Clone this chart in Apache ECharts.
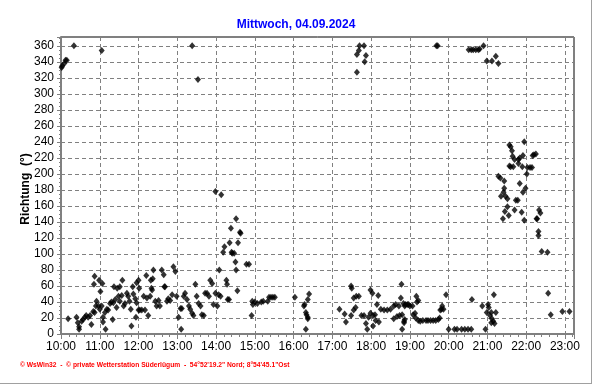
<!DOCTYPE html>
<html>
<head>
<meta charset="utf-8">
<script src="https://cdn.jsdelivr.net/npm/echarts@6/dist/echarts.min.js"></script>
<style>
html,body{margin:0;padding:0;background:#fff;}
#chart{width:592px;height:384px;}
</style>
</head>
<body>
<div id="chart"></div>
<script>
// Observations: [minutes after midnight, wind direction in degrees]
const morningObs = [
[601,333],[602,335],[605,338],[607,342],[609,342],[620,360],[663,354],[803,360],[812,318],
[611,19],[624,21],[626,14],[628,9],[628,6],[632,16],[634,18],[637,21],[639,23],[642,21],[645,23],
[647,12],[650,28],[651,62],[652,27],[652,72],[654,35],[655,41],[658,35],[659,67],[660,31],[661,53],[663,35],[664,63],[665,21],[665,15],[668,27],[669,6],[671,31],[673,30],[676,38],[678,40],[680,18],[681,39],[682,59],[684,43],[686,33],[687,57],[689,47],[691,41],[691,59],[694,48],[695,67],[697,35],[699,38],[702,51],[704,47],[706,41],[708,31],[709,10],[711,59],[712,50],[715,44],[716,21],[717,39],[717,64],[720,30],[720,67],[721,57],[722,30],[725,30],[728,47],[730,30],[732,73],[733,45],[735,23],[738,47],[739,67],[740,57],[741,55],[742,69],[743,80],[746,41],[748,35],[751,42],[753,35],[756,80],[759,74],[760,59],[761,59],[764,41],[766,44],[769,42],[772,49],[774,84],[777,78],[779,47],[782,21],[785,32],[786,6],[787,32],[790,47],[792,51],[795,43],[798,35],[800,31],[803,26],[805,23],[808,62],[810,47],[813,38],[816,35],[818,24],[821,23],[823,51],[826,51],[829,47],[831,67],[834,63],[836,37]
];
const afternoonObs = [
[839,178],[839,51],[842,35],[844,49],[845,80],[847,47],[848,174],[851,102],[853,109],[856,67],[857,62],[858,43],[860,43],[861,114],[863,132],[864,102],[865,101],[868,101],[870,90],[871,144],[871,80],[873,54],[874,114],[877,127],[878,126],[887,87],[891,87],[895,23],[896,41],[897,37],[900,40],[904,38],[910,40],[913,41],[920,41],[922,46],[925,46],[928,46],[931,46],[962,46],[976,35],[977,37],[979,27],[979,6],[980,24],[982,21],[982,19],[982,43],[984,50]
];
const eveningObs = [
[1031,31],[1039,25],[1041,15],[1049,23],[1049,60],[1050,57],[1053,30],[1053,45],[1056,33],[1057,47],[1058,327],[1058,349],[1061,354],[1061,47],[1062,360],[1065,23],[1069,360],[1069,23],[1070,340],[1072,348],[1072,13],[1074,6],[1076,21],[1079,55],[1079,26],[1082,51],[1083,23],[1083,10],[1086,24],[1087,17],[1089,37],[1091,48],[1092,15],[1095,31],[1100,30],[1105,30],[1110,31],[1115,35],[1115,19],[1118,37],[1120,22],[1123,35],[1124,23],[1126,45],[1127,62],[1128,24],[1128,6],[1131,16],[1133,37],[1138,37]
];
const nightObs = [
[1130,38],[1132,35],[1136,37],[1140,35],[1144,35],[1145,24],[1148,26],[1132,18],[1131,14],[1150,47],[1151,40],[1153,42],[1149,20],[1153,17],[1156,16],[1160,17],[1165,17],[1168,17],[1172,17],[1176,17],[1180,17],[1184,18],[1186,20],[1181,360],[1183,360],[1187,30],[1189,31],[1190,35],[1192,31],[1196,49],[1200,6],[1209,6],[1213,6],[1220,6],[1225,6],[1230,6],[1231,355],[1235,355],[1235,6],[1236,43],[1238,355],[1242,355],[1246,355],[1248,356],[1252,35],[1254,360],[1257,6],[1259,341],[1259,27],[1261,37],[1262,33],[1264,23],[1266,27],[1266,14],[1267,341],[1267,19],[1269,16],[1270,49],[1271,13],[1273,347],[1273,27],[1277,338],[1277,197],[1280,195],[1281,172],[1284,144],[1285,177],[1286,191],[1286,182],[1287,153],[1288,172],[1291,169],[1291,159],[1293,148],[1294,236],[1294,210],[1296,234],[1296,209],[1298,229],[1299,222],[1300,209],[1302,218],[1302,155],[1304,167],[1307,167],[1308,218],[1308,213],[1310,220],[1310,188],[1313,152],[1314,209],[1315,223],[1315,177],[1317,240],[1317,142],[1319,182],[1321,200],[1322,208],[1326,208],[1329,208],[1330,223],[1332,224],[1335,225],[1336,144],[1337,144],[1339,128],[1339,123],[1340,155],[1342,151],[1344,103],[1353,102],[1354,51],[1358,24],[1376,28],[1387,28]
];
const titleText = 'Mittwoch, 04.09.2024';
const yAxisTitle = 'Richtung  (°)';
const footerText = '\u00A9 WsWin32  -  \u00A9 private Wetterstation Süderlügum  -  54°52\'19.2" Nord; 8°54\'45.1"Ost';

const allObs = morningObs.concat(afternoonObs, eveningObs, nightObs);
const fontFam = '"Liberation Sans", Arial, sans-serif';
function hhmm(v){const h=Math.floor(v/60), m=Math.round(v%60);return (h<10?'0':'')+h+':'+(m<10?'0':'')+m;}

const chart = echarts.init(document.getElementById('chart'), null, {renderer:'canvas'});
chart.setOption({
  animation:false,
  backgroundColor:'#fff',
  title:{text:titleText,left:'center',top:14,textStyle:{color:'#0000ff',fontSize:12,fontWeight:'bold',fontFamily:fontFam}},
  grid:{left:61,right:18,top:37,bottom:50,show:true,borderColor:'#000',borderWidth:1},
  xAxis:{type:'value',min:600,max:1394,interval:60,
    axisLine:{show:true,lineStyle:{color:'#808080',width:2}},
    axisTick:{show:true,length:5,lineStyle:{color:'#808080'}},
    minorTick:{show:true,splitNumber:5,length:3,lineStyle:{color:'#808080'}},
    splitLine:{show:true,lineStyle:{color:'#808080',type:[4,3],width:1}},
    axisLabel:{color:'#000',fontSize:12,fontFamily:fontFam,margin:7,
      formatter:function(v){return v%60===0?hhmm(v):'';}}
  },
  yAxis:{type:'value',min:0,max:371,interval:20,
    axisLine:{show:true,lineStyle:{color:'#808080',width:2}},
    axisTick:{show:true,length:4,lineStyle:{color:'#808080'}},
    minorTick:{show:true,splitNumber:4,length:2,lineStyle:{color:'#808080'}},
    splitLine:{show:true,lineStyle:{color:'#808080',type:[4,3],width:1}},
    axisLabel:{color:'#000',fontSize:12,fontFamily:fontFam,margin:7,
      formatter:function(v){return v%20===0?String(v):'';}}
  },
  series:[{type:'scatter',data:allObs,symbol:'diamond',symbolSize:[6,7],
    itemStyle:{color:'#000'},clip:true}],
  graphic:[
    {type:'text',x:26,y:189,rotation:Math.PI/2,style:{text:yAxisTitle,fill:'#000',font:'bold 12px '+fontFam,textAlign:'center',textVerticalAlign:'middle'}},
    {type:'text',x:20,y:365,style:{text:footerText,fill:'#ff0000',font:'bold 6.7px '+fontFam,textAlign:'left',textVerticalAlign:'middle'}},
    {type:'line',shape:{x1:591.5,y1:0,x2:591.5,y2:384},style:{stroke:'#a0a0a0',lineWidth:1}},
    {type:'line',shape:{x1:0,y1:383.5,x2:592,y2:383.5},style:{stroke:'#a0a0a0',lineWidth:1}}
  ]
});
</script>
</body>
</html>
